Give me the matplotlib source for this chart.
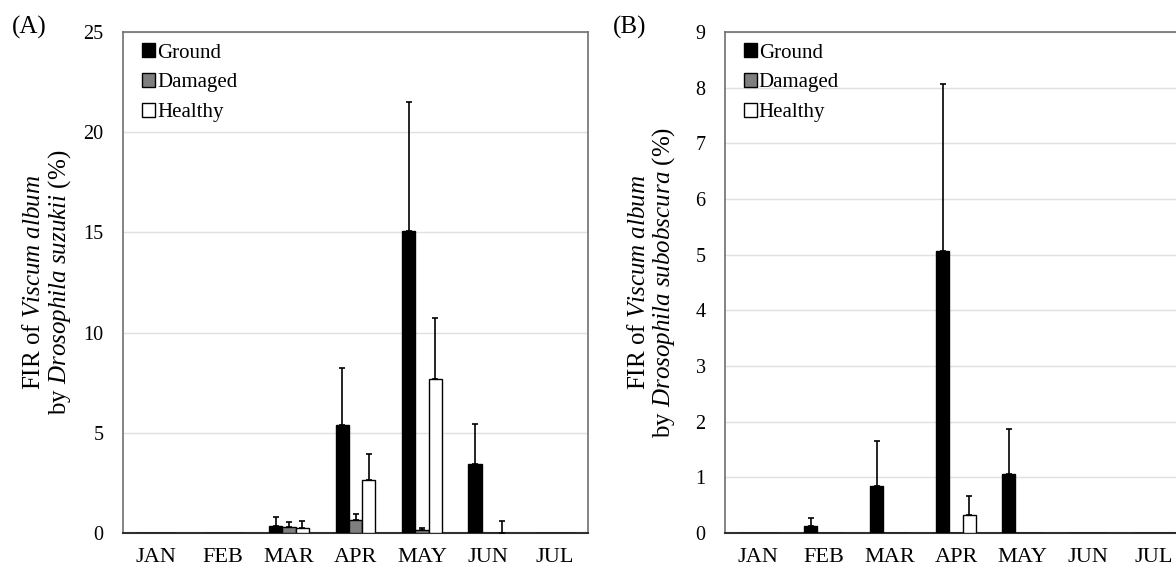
import matplotlib
matplotlib.use("Agg")
import matplotlib.pyplot as plt
import numpy as np

plt.rcParams['font.family'] = 'Liberation Serif'
plt.rcParams['mathtext.fontset'] = 'custom'
plt.rcParams['mathtext.rm'] = 'Liberation Serif'
plt.rcParams['mathtext.it'] = 'Liberation Serif:italic'

# Datos
meses = ['JAN', 'FEB', 'MAR', 'APR', 'MAY', 'JUN', 'JUL']
grupos = ['Ground', 'Damaged', 'Healthy']

# (A) Drosophila suzukii
suzukii_ground = [0, 0, 0.37, 5.37, 15.05, 3.45, 0]
suzukii_ground_err = [0, 0, 0.43, 2.85, 6.45, 1.97, 0]
suzukii_damaged = [0, 0, 0.30, 0.65, 0.15, 0, 0]
suzukii_damaged_err = [0, 0, 0.25, 0.30, 0.12, 0, 0]
suzukii_healthy = [0, 0, 0.25, 2.65, 7.70, 0, 0]
suzukii_healthy_err = [0, 0, 0.33, 1.30, 3.05, 0.62, 0]

# (B) Drosophila subobscura
subobscura_ground = [0, 0.13, 0.85, 5.07, 1.06, 0, 0]
subobscura_ground_err = [0, 0.14, 0.81, 3.00, 0.80, 0, 0]
subobscura_damaged = [0, 0, 0, 0, 0, 0, 0]
subobscura_damaged_err = [0, 0, 0, 0, 0, 0, 0]
subobscura_healthy = [0, 0, 0, 0.33, 0, 0, 0]
subobscura_healthy_err = [0, 0, 0, 0.33, 0, 0, 0]

colores = ['black', '#7f7f7f', 'white']


def dibujar_panel(ax, valores, errores, ymax, paso, especie, label_x):
    x = np.arange(len(meses)) + 0.5
    ancho = 0.2
    for i, (vals, errs) in enumerate(zip(valores, errores)):
        pos = x + (i - 1) * ancho
        ax.bar(pos, vals, width=ancho, color=colores[i], edgecolor='black',
               linewidth=1.0, label=grupos[i], zorder=3)
        con_error = [j for j in range(len(errs)) if errs[j] > 0]
        ax.errorbar(pos[con_error], np.array(vals)[con_error],
                    yerr=[np.zeros(len(con_error)), np.array(errs)[con_error]],
                    fmt='none', ecolor='black', elinewidth=1.2, capsize=2.5,
                    capthick=1.2, zorder=4)
    ax.set_xlim(0, len(meses))
    ax.set_ylim(0, ymax)
    ax.set_xticks(x)
    ax.set_xticklabels(meses, fontsize=16)
    ax.set_yticks(np.arange(0, ymax + 0.01, paso))
    ax.tick_params(axis='both', length=0)
    ax.tick_params(axis='y', labelsize=14.5, pad=14)
    ax.tick_params(axis='x', pad=10.5)
    ax.yaxis.grid(True, color='#e0e0e0', linewidth=1.0, zorder=0)
    for lado in ['top', 'right', 'left']:
        ax.spines[lado].set_color('#707070')
        ax.spines[lado].set_linewidth(1.2)
    ax.spines['bottom'].set_color('#303030')
    ax.spines['bottom'].set_linewidth(1.5)
    ax.set_ylabel('FIR of $\\mathit{Viscum\\ album}$\nby $\\mathit{Drosophila\\ ' + especie + '}$ (%)',
                  fontsize=18, linespacing=1.05)
    ax.yaxis.set_label_coords(label_x, 0.5)
    ax.legend(loc='upper left', bbox_to_anchor=(0.02, 0.996), frameon=False,
              fontsize=15, handlelength=0.65, handleheight=0.65,
              handletextpad=0.08, labelspacing=0.5, borderaxespad=0.15,
              borderpad=0.3)


fig = plt.figure(figsize=(11.76, 5.68), dpi=100)
ax1 = fig.add_axes([123 / 1176, 35 / 568, 465 / 1176, 501 / 568])
ax2 = fig.add_axes([725 / 1176, 35 / 568, 462 / 1176, 501 / 568])

dibujar_panel(ax1, [suzukii_ground, suzukii_damaged, suzukii_healthy],
              [suzukii_ground_err, suzukii_damaged_err, suzukii_healthy_err],
              25, 5, 'suzukii', -0.108)
dibujar_panel(ax2, [subobscura_ground, subobscura_damaged, subobscura_healthy],
              [subobscura_ground_err, subobscura_damaged_err, subobscura_healthy_err],
              9, 1, 'subobscura', -0.103)

fig.text(29 / 1176, 1 - 34 / 568, '(A)', fontsize=18, ha='center', va='baseline')
fig.text(630 / 1176, 1 - 34 / 568, '(B)', fontsize=18, ha='center', va='baseline')

fig.savefig('out.png', dpi=100)
